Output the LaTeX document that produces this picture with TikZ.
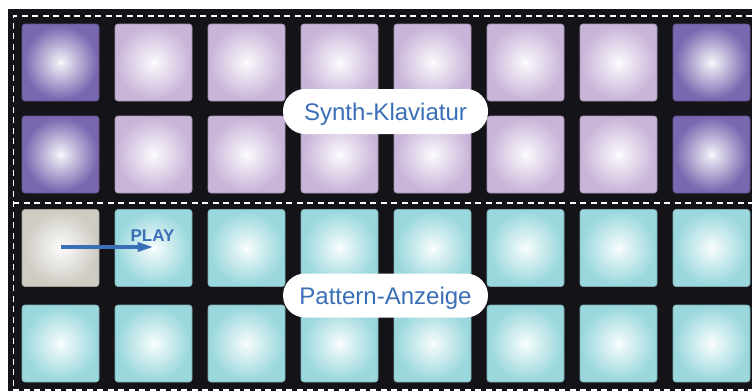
\documentclass[tikz,border=0pt]{standalone}
\usepackage{fontspec}
\setmainfont{Liberation Sans}
\usetikzlibrary{arrows.meta}
\definecolor{bg}{HTML}{141318}
\definecolor{pDark}{HTML}{7967B0}
\definecolor{pLight}{HTML}{C9B5D9}
\definecolor{pCyan}{HTML}{9AD8DD}
\definecolor{pGrey}{HTML}{CFCCC4}
\definecolor{lblue}{HTML}{3A6FB8}
\pgfdeclareradialshading{shDark}{\pgfpoint{0bp}{0bp}}{color(0bp)=(white); color(2bp)=(white!85!pDark); color(24bp)=(pDark); color(50bp)=(pDark)}
\pgfdeclareradialshading{shLight}{\pgfpoint{0bp}{0bp}}{color(0bp)=(white); color(2bp)=(white!85!pLight); color(24bp)=(pLight); color(50bp)=(pLight)}
\pgfdeclareradialshading{shCyan}{\pgfpoint{0bp}{0bp}}{color(0bp)=(white); color(2bp)=(white!85!pCyan); color(24bp)=(pCyan); color(50bp)=(pCyan)}
\pgfdeclareradialshading{shGrey}{\pgfpoint{0bp}{0bp}}{color(0bp)=(white); color(2bp)=(white!85!pGrey); color(24bp)=(pGrey); color(50bp)=(pGrey)}
\tikzset{
  padbase/.style={rectangle, rounded corners=3pt, minimum width=77pt, minimum height=77pt, inner sep=0pt, line width=0.7pt},
  padD/.style={padbase, shading=shDark, draw=pDark!80!black},
  padL/.style={padbase, shading=shLight, draw=pLight!80!black},
  padC/.style={padbase, shading=shCyan, draw=pCyan!80!black},
  padG/.style={padbase, shading=shGrey, draw=pGrey!80!black},
  dashline/.style={draw=white, line width=1.4pt, dash pattern=on 6pt off 4.5pt},
  lblbox/.style={fill=white, rounded corners=22pt, minimum width=205pt, inner sep=0pt, text=lblue, font=\fontsize{24}{28}\selectfont, text height=17pt, text depth=0pt},
  playlbl/.style={text=lblue, font=\fontsize{17}{20}\selectfont\bfseries, inner sep=0pt, text height=12.3pt, text depth=0pt},
  playarrow/.style={draw=lblue, line width=3.6pt, -{Triangle[length=16pt,width=9pt]}}
}
\begin{document}
\begin{tikzpicture}[x=1pt,y=-1pt]
\useasboundingbox (0,0) rectangle (752,391);
\fill[white] (0,0) rectangle (752,391);
\fill[bg] (8,9) rectangle (752,391);
\foreach \c in {1,...,8}{
  \pgfmathsetmacro\x{60.5+93*(\c-1)}
  \ifnum\c=1 \def\tp{padD}\else\ifnum\c=8 \def\tp{padD}\else\def\tp{padL}\fi\fi
  \ifnum\c=1 \def\tq{padG}\else\def\tq{padC}\fi
  \node[\tp] (p1\c) at (\x,62.5) {};
  \node[\tp] (p2\c) at (\x,154.5) {};
  \node[\tq] (p3\c) at (\x,248) {};
  \node[padC] (p4\c) at (\x,343.5) {};
}
\draw[dashline] (752,16) -- (13.3,16) -- (13.3,391);
\draw[dashline] (13.3,203) -- (752,203);
\draw[dashline] (13.3,390) -- (752,390);
\node[lblbox, minimum height=45pt] (synth) at (385.5,111.5) {Synth-Klaviatur};
\node[lblbox, minimum height=44pt] (pattern) at (385.5,295.5) {Pattern-Anzeige};
\node[playlbl] (play) at (152.5,235) {PLAY};
\draw[playarrow] ([yshift=1pt]p31.center) -- ([yshift=1pt]p32.center);
\end{tikzpicture}
\end{document}
